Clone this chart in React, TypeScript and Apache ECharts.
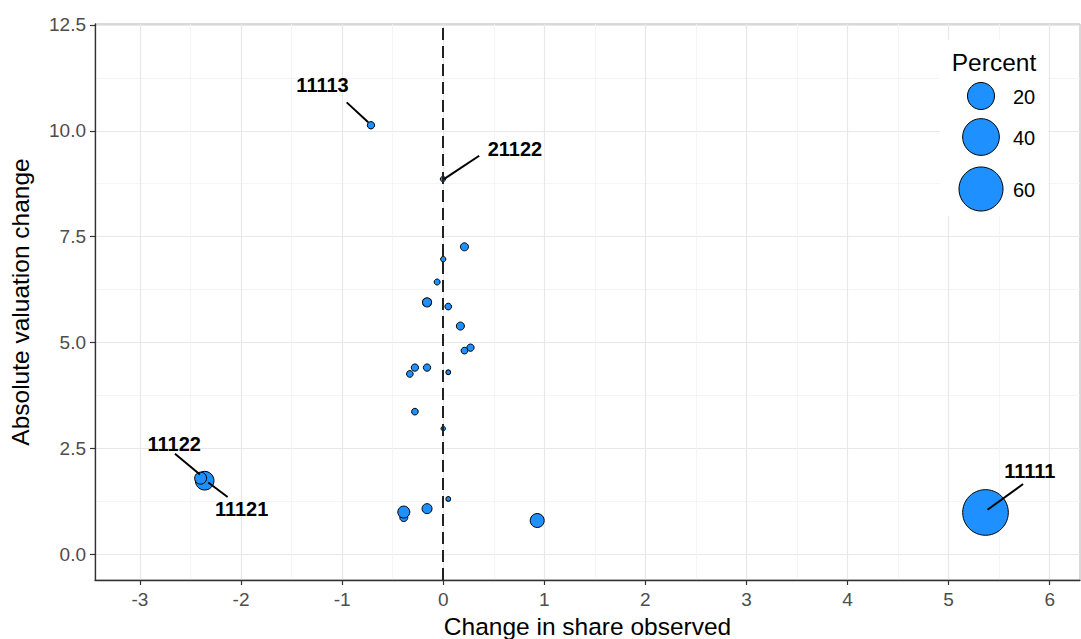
import React, { useEffect, useRef } from "react";
import * as echarts from "echarts";

// ---- data ----
const POINT_X = [-0.715, -0.003, 0.21, 0.0, -0.06, -0.16, 0.05, 0.17, 0.27, 0.21, -0.28, -0.16, -0.33, 0.05, -0.28, 0.0, -2.36, -2.4, 0.05, -0.16, -0.39, -0.39, 0.93, 5.365];
const POINT_Y = [10.13, 8.86, 7.26, 6.97, 6.43, 5.95, 5.85, 5.39, 4.88, 4.81, 4.41, 4.41, 4.26, 4.3, 3.37, 2.97, 1.74, 1.8, 1.31, 1.08, 0.87, 1.0, 0.8, 0.99];
const PERCENT = [0.41, 0.06, 0.6, 0.06, 0.15, 1.05, 0.27, 0.6, 0.41, 0.27, 0.41, 0.41, 0.27, 0.02, 0.27, 0.01, 8.07, 2.39, 0.02, 1.35, 0.6, 2.39, 3.74, 65];

const LABEL_TEXT = ["11113", "21122", "11122", "11121", "11111"];
const LABEL_X = [-1.194, 0.709, -2.661, -1.994, 5.803];
const LABEL_Y = [11.08, 9.57, 2.605, 1.071, 1.958];
const SEG_FROM_X = [-0.955, 0.356, -2.654, -2.324, 5.737];
const SEG_FROM_Y = [10.67, 9.41, 2.376, 1.699, 1.661];
const SEG_TO_X = [-0.742, 0.007, -2.407, -2.133, 5.385];
const SEG_TO_Y = [10.2, 8.86, 1.888, 1.354, 1.055];

const X_TICKS = [-3, -2, -1, 0, 1, 2, 3, 4, 5, 6];
const X_MINOR = [-2.5, -1.5, -0.5, 0.5, 1.5, 2.5, 3.5, 4.5, 5.5];
const Y_TICKS = [0, 2.5, 5, 7.5, 10, 12.5];
const Y_MINOR = [1.25, 3.75, 6.25, 8.75, 11.25];
const LEGEND_BREAKS = [20, 40, 60];

const X_MIN = -3.445;
const X_MAX = 6.3;
const Y_MIN = -0.604;
const Y_MAX = 12.52;

const FONT = "'Liberation Sans', Arial, sans-serif";
const FILL = "#1E90FF";

const sizeOf = (p: number) => 4 + 42 * Math.sqrt(p / 66);

export default function App() {
  const ref = useRef<HTMLDivElement>(null);
  useEffect(() => {
    document.body.style.margin = "0";
    const chart = echarts.init(ref.current!, null, { renderer: "svg" });

    const points = POINT_X.map((x, i) => [x, POINT_Y[i], PERCENT[i]]);
    const labels = LABEL_TEXT.map((t, i) => ({ value: [LABEL_X[i], LABEL_Y[i]], name: t }));
    const segs = LABEL_TEXT.map((_, i) => ({
      coords: [
        [SEG_FROM_X[i], SEG_FROM_Y[i]],
        [SEG_TO_X[i], SEG_TO_Y[i]],
      ],
    }));

    const legendCy = [96, 137, 189];
    const legendGraphics: any[] = [
      { type: "rect", shape: { x: 940, y: 40, width: 108, height: 176 }, style: { fill: "#fff" }, z: 10 },
      {
        type: "text",
        x: 994,
        y: 62,
        style: { text: "Percent", fontSize: 24.5, fontFamily: FONT, fill: "#000", align: "center", verticalAlign: "middle" },
        z: 11,
      },
    ];
    LEGEND_BREAKS.forEach((b, i) => {
      legendGraphics.push({
        type: "circle",
        shape: { cx: 981, cy: legendCy[i], r: sizeOf(b) / 2 },
        style: { fill: FILL, stroke: "#000", lineWidth: 1 },
        z: 11,
      });
      legendGraphics.push({
        type: "text",
        x: 1013,
        y: legendCy[i] + 1,
        style: { text: String(b), fontSize: 20, fontFamily: FONT, fill: "#000", align: "left", verticalAlign: "middle" },
        z: 11,
      });
    });

    const option: any = {
      animation: false,
      backgroundColor: "#fff",
      grid: {
        left: 95,
        right: 1,
        top: 24,
        bottom: 59,
        outerBoundsMode: "none",
        containLabel: false,
        show: true,
        borderColor: "#b3b3b3",
        borderWidth: 1,
        backgroundColor: "transparent",
      },
      xAxis: [
        {
          type: "value",
          min: X_MIN,
          max: X_MAX,
          axisLine: { show: false },
          axisTick: { show: false, customValues: X_MINOR },
          axisLabel: { show: false, customValues: X_MINOR },
          splitLine: { show: true, lineStyle: { color: "#f2f2f2", width: 0.8 } },
        },
        {
          type: "value",
          min: X_MIN,
          max: X_MAX,
          position: "bottom",
          axisLine: { show: true, onZero: false, lineStyle: { color: "#333", width: 1.3 } },
          axisTick: { show: true, length: 5, customValues: X_TICKS, lineStyle: { color: "#333", width: 1.2 } },
          axisLabel: {
            customValues: X_TICKS,
            fontSize: 19,
            color: "#4d4d4d",
            fontFamily: FONT,
            margin: 10,
            showMinLabel: true,
            showMaxLabel: true,
          },
          splitLine: { show: true, lineStyle: { color: "#e8e8e8", width: 1.2 } },
          name: "Change in share observed",
          nameLocation: "middle",
          nameGap: 32,
          nameTextStyle: { fontSize: 24.5, color: "#000", fontFamily: FONT },
        },
      ],
      yAxis: [
        {
          type: "value",
          min: Y_MIN,
          max: Y_MAX,
          axisLine: { show: false },
          axisTick: { show: false, customValues: Y_MINOR },
          axisLabel: { show: false, customValues: Y_MINOR },
          splitLine: { show: true, lineStyle: { color: "#f2f2f2", width: 0.8 } },
        },
        {
          type: "value",
          min: Y_MIN,
          max: Y_MAX,
          position: "left",
          axisLine: { show: true, onZero: false, lineStyle: { color: "#333", width: 1.3 } },
          axisTick: { show: true, length: 5, customValues: Y_TICKS, lineStyle: { color: "#333", width: 1.2 } },
          axisLabel: {
            customValues: Y_TICKS,
            fontSize: 19,
            color: "#4d4d4d",
            fontFamily: FONT,
            margin: 9,
            formatter: (v: number) => v.toFixed(1),
          },
          splitLine: { show: true, lineStyle: { color: "#e8e8e8", width: 1.2 } },
          name: "Absolute valuation change",
          nameLocation: "middle",
          nameRotate: 90,
          nameGap: 62,
          nameTextStyle: { fontSize: 24.5, color: "#000", fontFamily: FONT },
        },
      ],
      series: [
        {
          type: "scatter",
          xAxisIndex: 1,
          yAxisIndex: 1,
          data: points,
          symbol: "circle",
          symbolSize: (v: number[]) => sizeOf(v[2]),
          itemStyle: { color: FILL, borderColor: "#000", borderWidth: 1, opacity: 1 },
          z: 2,
          silent: true,
        },
        {
          type: "lines",
          coordinateSystem: "cartesian2d",
          xAxisIndex: 1,
          yAxisIndex: 1,
          data: segs,
          lineStyle: { color: "#000", width: 2, opacity: 1, curveness: 0 },
          z: 4,
          silent: true,
        },
        {
          type: "scatter",
          xAxisIndex: 1,
          yAxisIndex: 1,
          data: labels,
          symbolSize: 0,
          itemStyle: { opacity: 1 },
          label: {
            show: true,
            position: "inside",
            formatter: (p: any) => p.name,
            fontSize: 20,
            fontWeight: "bold",
            color: "#000",
            opacity: 1,
            textBorderWidth: 0,
            fontFamily: FONT,
          },
          z: 5,
          silent: true,
          markLine: {
            silent: true,
            symbol: "none",
            label: { show: false },
            lineStyle: { color: "#222", width: 2, type: [12, 6] },
            data: [{ xAxis: 0 }],
            z: 3,
          },
        },
      ],
      graphic: legendGraphics,
    };
    chart.setOption(option);
    return () => chart.dispose();
  }, []);
  return <div ref={ref} style={{ width: 1081, height: 639 }} />;
}
